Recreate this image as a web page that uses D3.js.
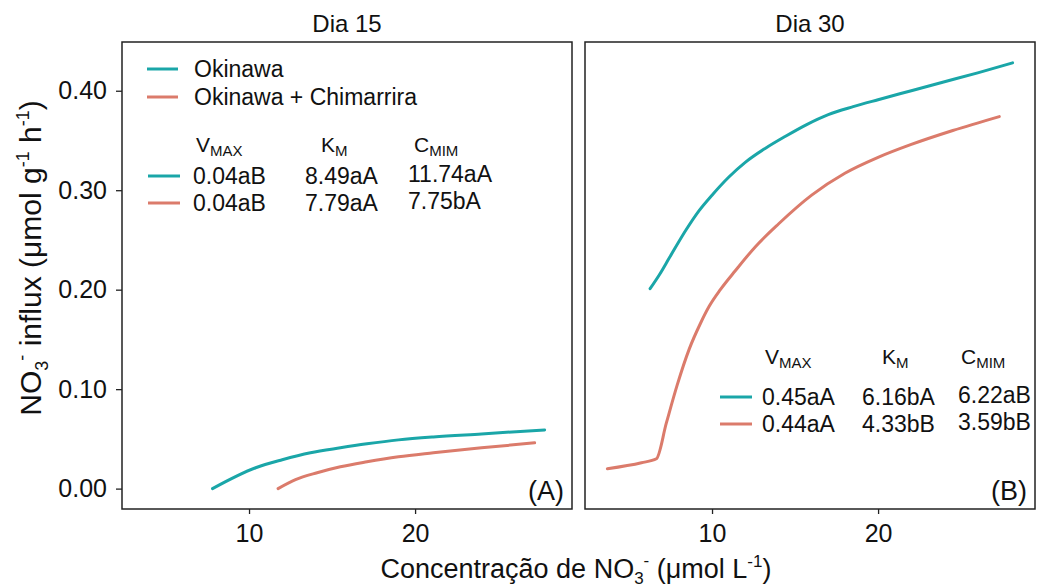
<!DOCTYPE html>
<html>
<head>
<meta charset="utf-8">
<script src="https://cdn.jsdelivr.net/npm/d3@7"></script>
<style>
	body { margin: 0; background: #fff; }
	text { font-family: "Liberation Sans", Arial, sans-serif; fill: #111; }
</style>
</head>
<body>
<script>
(function () {
	//data
	var panelTitles = ["Dia 15", "Dia 30"];
	var panelTags = ["(A)", "(B)"];
	var seriesNames = ["Okinawa", "Okinawa + Chimarrira"];
	var seriesColors = ["#1aa6a8", "#db7b6b"];

	var conc15Ok = [7.8, 10.4, 12.0, 13.7, 15.5, 17.1, 19.0, 21.1, 24.0, 27.8];
	var flux15Ok = [0.000, 0.021, 0.029, 0.036, 0.041, 0.045, 0.049, 0.052, 0.055, 0.059];
	var conc15Ch = [11.75, 12.8, 14.1, 15.5, 17.1, 19.0, 21.1, 24.0, 27.2];
	var flux15Ch = [0.000, 0.009, 0.016, 0.022, 0.027, 0.032, 0.036, 0.041, 0.046];
	var conc30Ok = [6.27, 6.83, 7.43, 8.43, 9.2, 10.0, 11.0, 12.0, 13.2, 14.4, 15.7, 17.0, 18.5, 20.0, 22.0, 24.0, 26.0, 28.1];
	var flux30Ok = [0.201, 0.215, 0.232, 0.260, 0.279, 0.295, 0.313, 0.328, 0.342, 0.354, 0.366, 0.376, 0.384, 0.391, 0.400, 0.409, 0.418, 0.428];
	var conc30Ch = [3.7, 5.75, 6.65, 7.25, 7.9, 8.62, 9.3, 9.82, 10.5, 11.4, 12.6, 14.0, 16.0, 18.0, 20.0, 22.0, 24.5, 27.3];
	var flux30Ch = [0.020, 0.026, 0.030, 0.066, 0.104, 0.140, 0.166, 0.183, 0.200, 0.219, 0.243, 0.266, 0.295, 0.317, 0.333, 0.346, 0.360, 0.374];

	//kinetic parameter tables
	var paramHeads = [["V", "MAX"], ["K", "M"], ["C", "MIM"]];
	var params15 = [["0.04aB", "8.49aA", "11.74aA"], ["0.04aB", "7.79aA", "7.75bA"]];
	var params30 = [["0.45aA", "6.16bA", "6.22aB"], ["0.44aA", "4.33bB", "3.59bB"]];

	var xTicks = [10, 20];
	var yTicks = [0, 0.1, 0.2, 0.3, 0.4];

	var width = 1038, height = 587;
	var top = 42, bottom = 509;
	var panelX = [[122, 572], [585, 1035]];
	var font = "Liberation Sans, Arial, sans-serif";

	var svg = d3.select("body").append("svg")
		.attr("width", width)
		.attr("height", height);

	var y = d3.scaleLinear().domain([-0.0205, 0.449]).range([bottom, top]);

	var panels = [
		{ series: [[conc15Ok, flux15Ok], [conc15Ch, flux15Ch]], params: params15 },
		{ series: [[conc30Ok, flux30Ok], [conc30Ch, flux30Ch]], params: params30 }
	];

	panels.forEach(function (p, i) {
		var x = d3.scaleLinear().domain([2.35, 29.45]).range(panelX[i]);
		var g = svg.append("g");

		//curves
		p.series.forEach(function (s, k) {
			var pts = s[0].map(function (c, j) { return [c, s[1][j]]; });
			g.append("path")
				.datum(pts)
				.attr("fill", "none")
				.attr("stroke", seriesColors[k])
				.attr("stroke-width", 3)
				.attr("stroke-linecap", "round")
				.attr("stroke-linejoin", "round")
				.attr("d", d3.line()
					.x(function (d) { return x(d[0]); })
					.y(function (d) { return y(d[1]); })
					.curve(d3.curveMonotoneX));
		});

		//frame
		g.append("rect")
			.attr("x", panelX[i][0]).attr("y", top)
			.attr("width", panelX[i][1] - panelX[i][0])
			.attr("height", bottom - top)
			.attr("fill", "none")
			.attr("stroke", "#222")
			.attr("stroke-width", 1.5);

		//x axis
		var xAxis = g.append("g")
			.attr("transform", "translate(0," + bottom + ")")
			.call(d3.axisBottom(x).tickValues(xTicks).tickSize(5).tickPadding(10));
		xAxis.select(".domain").remove();
		xAxis.selectAll("line").attr("stroke", "#222").attr("stroke-width", 1.3);
		xAxis.selectAll("text").attr("font-size", 25).attr("font-family", font).attr("fill", "#111");

		//panel title and tag
		g.append("text")
			.attr("x", (panelX[i][0] + panelX[i][1]) / 2)
			.attr("y", 32)
			.attr("text-anchor", "middle")
			.attr("font-size", 24)
			.text(panelTitles[i]);
		g.append("text")
			.attr("x", panelX[i][1] - 8)
			.attr("y", 500)
			.attr("text-anchor", "end")
			.attr("font-size", 27)
			.text(panelTags[i]);
	});

	//y axis
	var yAxis = svg.append("g")
		.attr("transform", "translate(" + panelX[0][0] + ",0)")
		.call(d3.axisLeft(y).tickValues(yTicks).tickFormat(d3.format(".2f")).tickSize(6).tickPadding(9));
	yAxis.select(".domain").remove();
	yAxis.selectAll("line").attr("stroke", "#222").attr("stroke-width", 1.3);
	yAxis.selectAll("text").attr("font-size", 25).attr("font-family", font).attr("fill", "#111");

	//legend
	seriesNames.forEach(function (n, k) {
		var ly = 69 + k * 28;
		svg.append("line")
			.attr("x1", 147).attr("x2", 178)
			.attr("y1", ly).attr("y2", ly)
			.attr("stroke", seriesColors[k]).attr("stroke-width", 3);
		svg.append("text")
			.attr("x", 194).attr("y", ly + 8)
			.attr("font-size", 23)
			.text(n);
	});

	//parameter tables
	function paramTable(x0, headY, lineY, headX, colX, params) {
		paramHeads.forEach(function (h, c) {
			var t = svg.append("text")
				.attr("x", headX[c]).attr("y", headY)
				.attr("font-size", 21);
			t.append("tspan").text(h[0]);
			t.append("tspan").attr("font-size", 15).attr("dy", 4).text(h[1]);
		});
		params.forEach(function (row, k) {
			var ry = lineY + k * 27;
			svg.append("line")
				.attr("x1", x0).attr("x2", x0 + 32)
				.attr("y1", ry).attr("y2", ry)
				.attr("stroke", seriesColors[k]).attr("stroke-width", 3);
			row.forEach(function (v, c) {
				svg.append("text")
					.attr("x", colX[c])
					.attr("y", ry + 8 - (c == 2 ? 2 : 0))
					.attr("font-size", 23)
					.text(v);
			});
		});
	}
	paramTable(148, 152, 176, [196, 321, 414], [193, 305, 408], params15);
	paramTable(720, 364, 397, [765, 882, 961], [762, 862, 958], params30);

	//axis titles
	var xt = svg.append("text")
		.attr("x", 576).attr("y", 578)
		.attr("text-anchor", "middle")
		.attr("font-size", 27);
	xt.append("tspan").text("Concentração de NO");
	xt.append("tspan").attr("font-size", 17).attr("dy", 6).text("3");
	xt.append("tspan").attr("font-size", 17).attr("dy", -18).text("-");
	xt.append("tspan").attr("dy", 12).text(" (μmol L");
	xt.append("tspan").attr("font-size", 17).attr("dy", -11).text("-1");
	xt.append("tspan").attr("dy", 11).text(")");

	var yt = svg.append("text")
		.attr("transform", "translate(41,258) rotate(-90)")
		.attr("text-anchor", "middle")
		.attr("font-size", 30);
	yt.append("tspan").text("NO");
	yt.append("tspan").attr("font-size", 18).attr("dy", 7).text("3");
	yt.append("tspan").attr("font-size", 18).attr("dy", -20).text("-");
	yt.append("tspan").attr("dy", 13).text(" influx (μmol g");
	yt.append("tspan").attr("font-size", 18).attr("dy", -12).text("-1");
	yt.append("tspan").attr("dy", 12).text(" h");
	yt.append("tspan").attr("font-size", 18).attr("dy", -12).text("-1");
	yt.append("tspan").attr("dy", 12).text(")");
})();
</script>
</body>
</html>
